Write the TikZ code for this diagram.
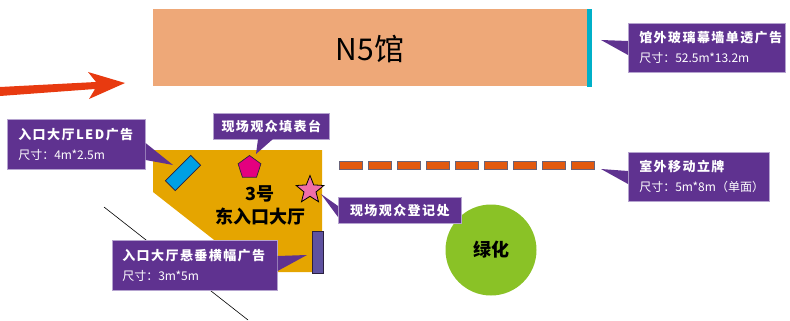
\documentclass[tikz,border=0pt]{standalone}
\usepackage{fontspec}
\setmainfont{Noto Sans CJK SC}
\usetikzlibrary{positioning}
\usetikzlibrary{shapes.geometric}
\definecolor{hall}{HTML}{EEA878}
\definecolor{glass}{HTML}{00B0C8}
\definecolor{lobby}{HTML}{E5A500}
\definecolor{plum}{HTML}{5F3290}
\definecolor{plumedge}{HTML}{B5A3CF}
\definecolor{ledblue}{HTML}{00A0E4}
\definecolor{deskpink}{HTML}{E4007F}
\definecolor{starpink}{HTML}{F06EAA}
\definecolor{bannerblue}{HTML}{5F52A0}
\definecolor{standorange}{HTML}{E2590F}
\definecolor{lawn}{HTML}{8AC226}
\definecolor{arrowred}{HTML}{E83A10}
\definecolor{outline}{HTML}{2A2040}
\newcommand{\taghead}[1]{{\bfseries\addfontfeature{LetterSpace=11}#1}}
\newcommand{\tagsub}[1]{{\fontsize{12}{20}\selectfont #1}}
\begin{document}
\begin{tikzpicture}[x=1pt,y=-1pt,node distance=29pt,
  tag/.style={draw=plumedge,line width=0.6pt,fill=plum,text=white,align=left,inner xsep=0pt,inner ysep=0pt,anchor=north west,font=\fontsize{13}{20}\selectfont},
  tail/.style={fill=plum},
  stand/.style={draw=outline!70,line width=0.7pt,fill=standorange,minimum width=23pt,minimum height=8pt,inner sep=0pt},
  blacktext/.style={text=black,font=\fontsize{18}{23}\selectfont\bfseries,align=center}]
  \useasboundingbox (0,0) rectangle (790,321);
  \fill[arrowred] (0,87) -- (96,82) -- (88,72) -- (125,83) -- (89,99) -- (95,89) -- (0,96) -- cycle;
  \node[fill=hall,minimum width=434pt,minimum height=77pt,inner sep=0pt,anchor=north west] (n5) at (153,9){};
  \node[fill=glass,minimum width=5pt,minimum height=78pt,inner sep=0pt,anchor=north west] (glasswall) at (587,9){};
  \node[font=\fontsize{30}{32}\selectfont] at (370,49) (n5name){N5馆};
  \coordinate (linea) at (104,207);
  \coordinate (lineb) at (248,320);
  \draw[line width=0.6pt](linea)--(lineb);
  \fill[lobby] (153,150) -- (322,150) -- (322,272) -- (255,272) -- (153,192) -- cycle;
  \node[draw=outline,line width=0.7pt,fill=ledblue,minimum width=36pt,minimum height=14pt,inner sep=0pt,rotate=45] (led) at (183,173){};
  \node[draw=outline,line width=0.7pt,fill=deskpink,regular polygon,regular polygon sides=5,minimum size=24pt,inner sep=0pt] (desk) at (249.5,167.5){};
  \node[draw=black,line width=0.8pt,fill=starpink,star,star points=5,star point ratio=2.3,minimum size=29pt,inner sep=0pt] (signin) at (310,190){};
  \node[draw=outline,line width=0.8pt,fill=bannerblue,minimum width=11pt,minimum height=42pt,inner sep=0pt,anchor=north west] (banner) at (312,231){};
  \node[blacktext] (lobbyname) at (260,205){3号\\东入口大厅};
  \node[stand] (d1) at (350.5,165){};
  \node[stand,right of=d1] (d2){};
  \node[stand,right of=d2] (d3){};
  \node[stand,right of=d3] (d4){};
  \node[stand,right of=d4] (d5){};
  \node[stand,right of=d5] (d6){};
  \node[stand,right of=d6] (d7){};
  \node[stand,right of=d7] (d8){};
  \node[stand,right of=d8] (d9){};
  \node[fill=lawn,circle,minimum size=91pt,inner sep=0pt,blacktext] (green) at (491,250){绿化};
  \coordinate (tipled) at (173,165);
  \coordinate (tipdesk) at (256,154);
  \coordinate (tipsignin) at (321,194);
  \coordinate (tipbanner) at (307,255);
  \coordinate (tipglass) at (601,40);
  \coordinate (tipstand) at (601,169);
  \node[tag,minimum width=138pt,minimum height=50pt,text width=116pt,inner xsep=11pt] (tagled) at (7,119){\taghead{入口大厅LED广告}\\\tagsub{尺寸：4m*2.5m}};
  \node[tag,minimum width=116pt,minimum height=26pt,align=center] (tagdesk) at (213,113){\taghead{现场观众填表台}};
  \node[tag,minimum width=123pt,minimum height=26pt,align=center] (tagsignin) at (338,197){\taghead{现场观众登记处}};
  \node[tag,minimum width=165pt,minimum height=50pt,text width=145pt,inner xsep=10pt] (tagbanner) at (112,240){\taghead{入口大厅悬垂横幅广告}\\\tagsub{尺寸：3m*5m}};
  \node[tag,minimum width=157pt,minimum height=49pt,text width=135pt,inner xsep=11pt] (tagglass) at (628,23){\taghead{馆外玻璃幕墙单透广告}\\\tagsub{尺寸：52.5m*13.2m}};
  \node[tag,minimum width=141pt,minimum height=49pt,text width=119pt,inner xsep=11pt] (tagstand) at (628,152){\taghead{室外移动立牌}\\\tagsub{尺寸：5m*8m（单面）}};
  \fill[tail](tipled)--(tagled.east |- 0,143)--(tagled.east |- 0,160)--cycle;
  \fill[tail](tipdesk)--(258,139)--(273,139)--cycle;
  \fill[tail](tipsignin)--(tagsignin.west |- 0,206)--(tagsignin.west |- 0,217)--cycle;
  \fill[tail](tipbanner)--(tagbanner.east |- 0,256)--(tagbanner.east |- 0,271)--cycle;
  \fill[tail](tipglass)--(tagglass.west |- 0,41)--(tagglass.west |- 0,55)--cycle;
  \fill[tail](tipstand)--(tagstand.west |- 0,171)--(tagstand.west |- 0,184)--cycle;
\end{tikzpicture}
\end{document}
